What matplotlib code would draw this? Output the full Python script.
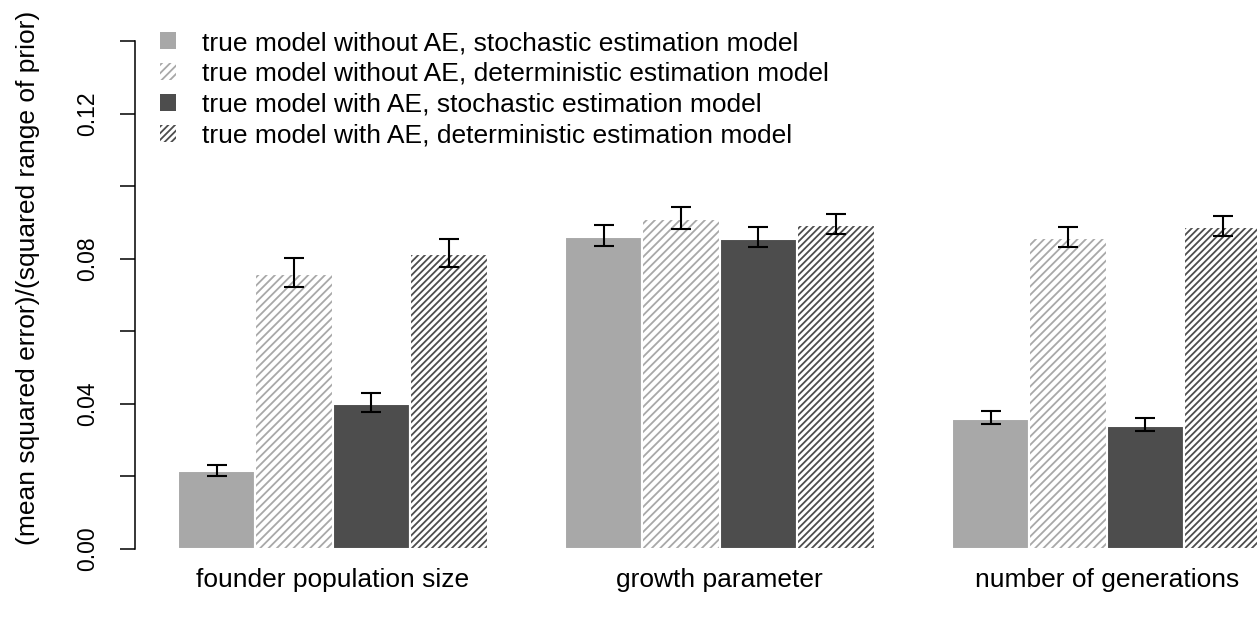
import matplotlib
matplotlib.use('Agg')
import matplotlib.pyplot as plt
from matplotlib.patches import Patch
import numpy as np

plt.rcParams['font.family'] = ['Liberation Sans', 'DejaVu Sans']
plt.rcParams['hatch.linewidth'] = 1.3

# data
params = ['founder population size', 'growth parameter', 'number of generations']
series = ['true model without AE, stochastic estimation model',
          'true model without AE, deterministic estimation model',
          'true model with AE, stochastic estimation model',
          'true model with AE, deterministic estimation model']

mse = np.array([[0.0215, 0.0758, 0.0400, 0.0813],
                [0.0860, 0.0909, 0.0855, 0.0893],
                [0.0359, 0.0857, 0.0340, 0.0887]])
err_lo = np.array([[0.0202, 0.0721, 0.0378, 0.0776],
                   [0.0834, 0.0882, 0.0832, 0.0868],
                   [0.0344, 0.0832, 0.0326, 0.0863]])
err_hi = np.array([[0.0231, 0.0803, 0.0431, 0.0854],
                   [0.0893, 0.0943, 0.0888, 0.0923],
                   [0.0381, 0.0888, 0.0361, 0.0918]])

yticks = [0.00, 0.02, 0.04, 0.06, 0.08, 0.10, 0.12, 0.14]
ylabels = ['0.00', '', '0.04', '', '0.08', '', '0.12', '']

light = '#a8a8a8'
dark = '#4d4d4d'
colours = [light, light, dark, dark]
hatches = [None, '////', None, '/////']

W, H = 1257, 617
fig = plt.figure(figsize=(W / 100.0, H / 100.0), dpi=100, facecolor='white')
ax = fig.add_axes([134.6 / W, (H - 549) / H, (W - 134.6) / W, (549 - 41) / H])

for g in range(len(params)):
    for j in range(len(series)):
        x = 1.5 + 5 * g + j
        if hatches[j] is None:
            ax.bar(x, mse[g, j], width=1.0, color=colours[j], edgecolor='white', linewidth=1.5)
        else:
            ax.bar(x, mse[g, j], width=1.0, facecolor='white', edgecolor=colours[j],
                   linewidth=0, hatch=hatches[j])
            ax.bar(x, mse[g, j], width=1.0, fill=False, edgecolor='white', linewidth=1.5)
        ax.errorbar(x, mse[g, j],
                    yerr=[[mse[g, j] - err_lo[g, j]], [err_hi[g, j] - mse[g, j]]],
                    fmt='none', ecolor='black', elinewidth=1.5, capsize=7.5, capthick=1.5)

ax.set_xlim(0.44, 0.44 + (W - 134.6) / 77.4)
ax.set_ylim(0, 0.14)

for s in ['top', 'right', 'bottom']:
    ax.spines[s].set_visible(False)
ax.spines['left'].set_linewidth(1.1)

ax.set_yticks(yticks)
ax.set_yticklabels(ylabels, rotation=90, va='center', fontsize=16.5)
ax.tick_params(axis='y', length=10.8, width=1.1, pad=15)

ax.set_xticks([3.0, 8.0, 13.0])
ax.set_xticklabels(params, fontsize=19)
ax.tick_params(axis='x', length=0, pad=14)

fig.text(28.0 / W, 1 - 277.5 / H, '(mean squared error)/(squared range of prior)',
         rotation=90, ha='center', va='center', fontsize=19)

handles = []
for j in range(len(series)):
    if hatches[j] is None:
        handles.append(Patch(facecolor=colours[j], edgecolor='none'))
    else:
        handles.append(Patch(facecolor='white', edgecolor=colours[j], linewidth=0, hatch=hatches[j]))
fig.legend(handles, series, loc='upper left', bbox_to_anchor=(160.0 / W, 1 - 31.0 / H),
           frameon=False, fontsize=19, handlelength=0.6, handleheight=0.6,
           handletextpad=1.0, labelspacing=0.26, borderpad=0, borderaxespad=0)

fig.savefig('out.png', dpi=100, facecolor='white')
